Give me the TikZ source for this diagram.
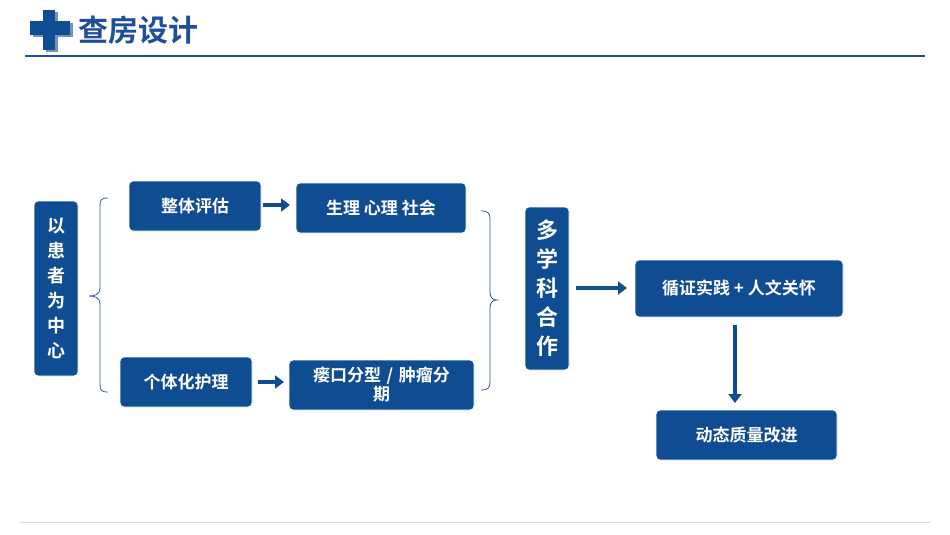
\documentclass[tikz,border=0pt]{standalone}
\usepackage{fontspec}
\setmainfont{Noto Sans CJK SC}[BoldFont={* Bold}]
\usetikzlibrary{arrows.meta}
\definecolor{nb}{HTML}{0F4C92}
\definecolor{tb}{HTML}{1F4E9A}
\begin{document}
\begin{tikzpicture}[x=1pt,y=-1pt,
  box/.style={fill=nb,draw=white,line width=0.8pt,rounded corners=4pt,text=white,font=\bfseries\fontsize{17}{19}\selectfont,align=center,inner sep=2pt},
  arr/.style={-{Triangle[length=9pt,width=13pt]},line width=4.5pt,nb},
  br/.style={draw=nb!70!gray,line width=0.8pt}]
\useasboundingbox (0,0) rectangle (950,535);
\fill[white] (0,0) rectangle (950,535);
% header
\fill[nb!60!white] (33,23) rectangle (73,37);
\fill[nb!60!white] (46,12) rectangle (58,52);
\fill[nb] (30,21) rectangle (70,35);
\fill[nb] (43,10) rectangle (55,50);
\node[anchor=west,text=tb,font=\bfseries\fontsize{30}{32}\selectfont,inner sep=0] (title) at (78,30) {查房设计};
\draw[tb,line width=2.5pt] (25,56) -- (925,56);
\draw[gray!30,line width=0.6pt] (20,522) -- (930,522);
% nodes
\node[box,minimum width=44pt,minimum height=175pt,text width=22pt,font=\bfseries\fontsize{18}{25}\selectfont] (a) at (56,288.5) {以\\患\\者\\为\\中\\心};
\node[box,minimum width=132pt,minimum height=50pt] (b) at (195,206) {整体评估};
\node[box,minimum width=170pt,minimum height=50pt] (c) at (381,208) {生理 心理 社会};
\node[box,minimum width=132pt,minimum height=50pt] (d) at (186,382) {个体化护理};
\node[box,minimum width=185pt,minimum height=50pt,text width=170pt,font=\bfseries\fontsize{17}{19}\selectfont] (e) at (381.5,385) {瘘口分型 / 肿瘤分\\期};
\node[box,minimum width=44pt,minimum height=163pt,text width=26pt,font=\bfseries\fontsize{22}{29}\selectfont] (f) at (547,288.5) {多\\学\\科\\合\\作};
\node[box,minimum width=208pt,minimum height=57pt] (g) at (739,288.5) {循证实践 + 人文关怀};
\node[box,minimum width=181pt,minimum height=50pt] (h) at (746.5,435) {动态质量改进};
% arrows
\coordinate (b1) at (263,205); \coordinate (c1) at (290,205);
\coordinate (d1) at (258,382); \coordinate (e1) at (284,382);
\coordinate (f1) at (576,288); \coordinate (g1) at (627,288);
\coordinate (g2) at (735,325); \coordinate (h1) at (735,403);
\draw[arr] (b1) -- (c1);
\draw[arr] (d1) -- (e1);
\draw[arr] (f1) -- (g1);
\draw[arr] (g2) -- (h1);
% braces
\coordinate (lt) at (108,198); \coordinate (lb) at (108,392); \coordinate (lm) at (89,296);
\draw[br] (lt) .. controls (101,198) and (100,200) .. (100,206) -- (100,288) .. controls (100,294) and (96,296) .. (lm)
  .. controls (96,296) and (100,298) .. (100,304) -- (100,384) .. controls (100,390) and (101,392) .. (lb);
\coordinate (rt) at (481,211); \coordinate (rb) at (481,390); \coordinate (rm) at (497,300);
\draw[br] (rt) .. controls (488,211) and (490,213) .. (490,219) -- (490,292) .. controls (490,298) and (493,300) .. (rm)
  .. controls (493,300) and (490,302) .. (490,308) -- (490,382) .. controls (490,388) and (488,390) .. (rb);
\end{tikzpicture}
\end{document}
